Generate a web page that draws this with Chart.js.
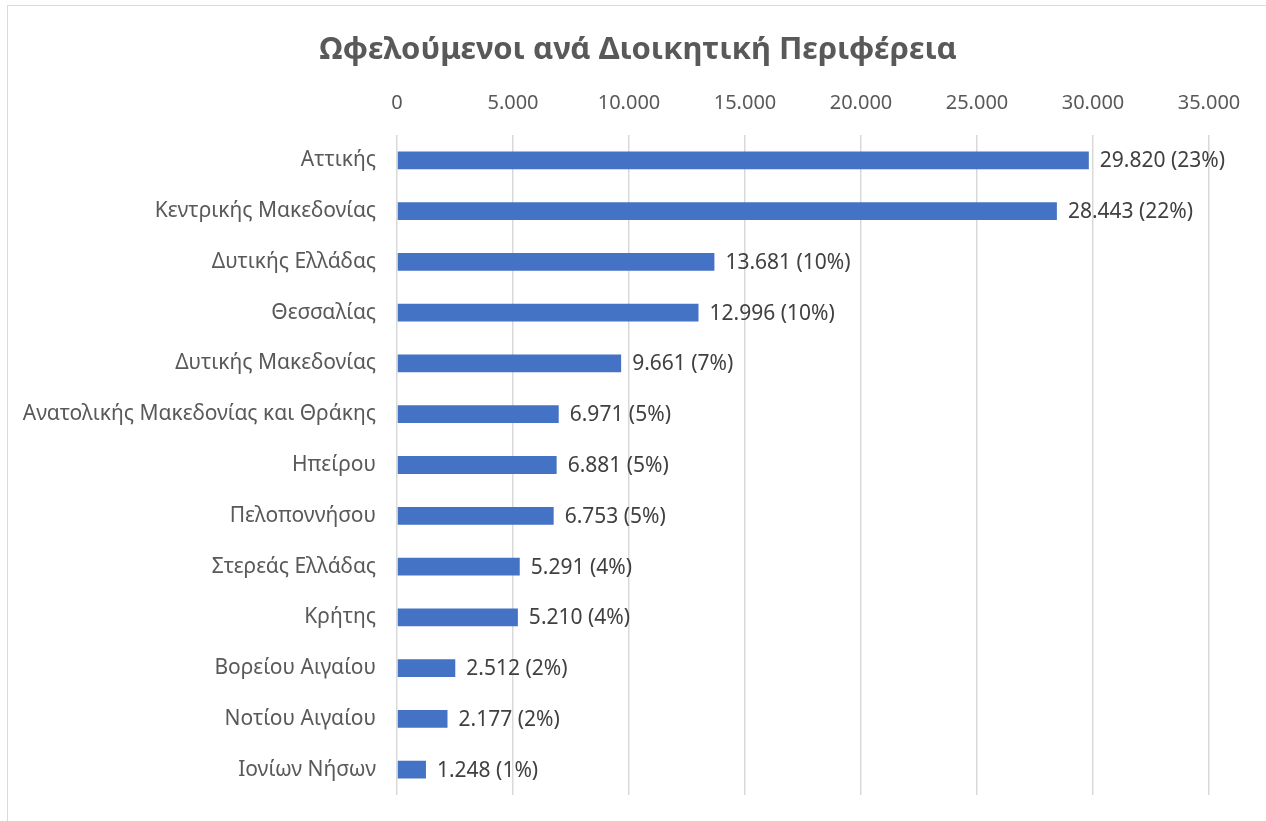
<!DOCTYPE html>
<html>
<head>
<meta charset="utf-8">
<script src="https://cdn.jsdelivr.net/npm/chart.js@4.4.1/dist/chart.umd.min.js"></script>
<style>
  html, body { margin: 0; padding: 0; background: #fff; }
  #wrap { position: relative; width: 1266px; height: 821px; overflow: hidden; }
  #frame { position: absolute; left: 7px; top: 5px; width: 1400px; height: 1000px;
           border-left: 1px solid #d9d9d9; border-top: 1px solid #d9d9d9; }
  canvas { position: absolute; left: 0; top: 0; }
</style>
</head>
<body>
<div id="wrap">
  <div id="frame"></div>
  <canvas id="chart" width="1266" height="821"></canvas>
</div>
<script>
// Περιφέρειες και ωφελούμενοι
const regions = [
  'Αττικής', 'Κεντρικής Μακεδονίας', 'Δυτικής Ελλάδας', 'Θεσσαλίας',
  'Δυτικής Μακεδονίας', 'Ανατολικής Μακεδονίας και Θράκης', 'Ηπείρου',
  'Πελοποννήσου', 'Στερεάς Ελλάδας', 'Κρήτης', 'Βορείου Αιγαίου',
  'Νοτίου Αιγαίου', 'Ιονίων Νήσων'
];
const beneficiaries = [29820, 28443, 13681, 12996, 9661, 6971, 6881, 6753, 5291, 5210, 2512, 2177, 1248];
const shares = ['23%', '22%', '10%', '10%', '7%', '5%', '5%', '5%', '4%', '4%', '2%', '2%', '1%'];
const xTicks = [0, 5000, 10000, 15000, 20000, 25000, 30000, 35000];
const chartTitle = 'Ωφελούμενοι ανά Διοικητική Περιφέρεια';

const FONT = "'Noto Sans', 'Open Sans', sans-serif";

function fmt(n) {
  return String(n).replace(/\B(?=(\d{3})+(?!\d))/g, '.');
}

// τίτλος + ετικέτες τιμών δίπλα στις μπάρες
const extras = {
  id: 'extras',
  afterDatasetsDraw(chart) {
    const ctx = chart.ctx;
    const meta = chart.getDatasetMeta(0);
    ctx.save();
    ctx.font = '21px ' + FONT;
    ctx.fillStyle = '#404040';
    ctx.textAlign = 'left';
    ctx.textBaseline = 'middle';
    meta.data.forEach((bar, i) => {
      ctx.fillText(fmt(beneficiaries[i]) + ' (' + shares[i] + ')', bar.x + 11, bar.y + 1);
    });

    ctx.font = 'bold 31px ' + FONT;
    ctx.fillStyle = '#595959';
    ctx.textAlign = 'center';
    ctx.fillText(chartTitle, 638, 50);
    ctx.restore();
  }
};

new Chart(document.getElementById('chart'), {
  type: 'bar',
  data: {
    labels: regions,
    datasets: [{
      data: beneficiaries,
      backgroundColor: '#4472C4',
      borderWidth: 0,
      barPercentage: 0.7,
      categoryPercentage: 0.5,
    }]
  },
  options: {
    indexAxis: 'y',
    responsive: false,
    animation: false,
    layout: { padding: { top: 65, right: 57, bottom: 26, left: 0 } },
    plugins: {
      legend: { display: false },
      tooltip: { enabled: false },
      title: { display: false },
    },
    scales: {
      x: {
        position: 'top',
        min: 0,
        max: 35000,
        afterBuildTicks: (axis) => { axis.ticks = xTicks.map(v => ({ value: v })); },
        afterFit: (axis) => { axis.height = 70; },
        ticks: {
          callback: (v) => fmt(v),
          color: '#595959',
          font: { family: FONT, size: 20 },
          padding: 20,
          maxRotation: 0,
        },
        grid: { color: '#d9d9d9', lineWidth: 1.5, drawTicks: false },
        border: { display: false },
      },
      y: {
        afterFit: (axis) => { axis.width = 397; },
        ticks: {
          color: '#595959',
          font: { family: FONT, size: 21 },
          padding: 0,
        },
        // invisible tick marks only to keep the gap between labels and bars
        grid: { drawOnChartArea: false, drawTicks: true, tickLength: 21, tickColor: 'rgba(0,0,0,0)' },
        border: { display: false },
      }
    }
  },
  plugins: [extras]
});
</script>
</body>
</html>
